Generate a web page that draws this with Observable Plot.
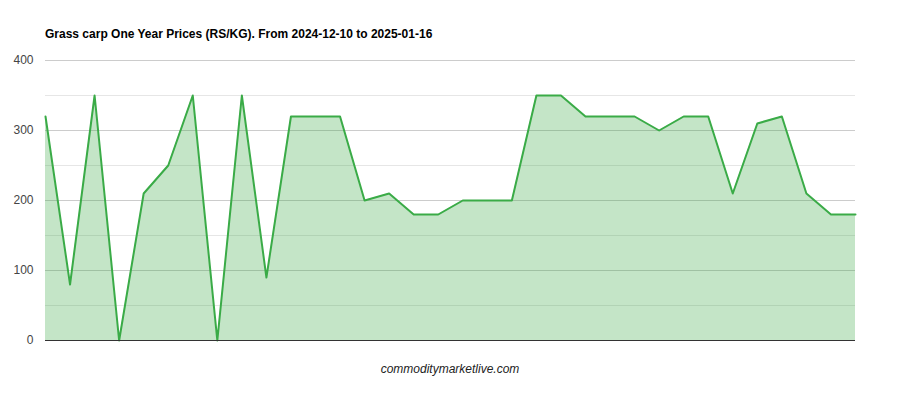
<!DOCTYPE html>
<html>
<head>
<meta charset="utf-8">
<script src="https://cdn.jsdelivr.net/npm/d3@7"></script>
<script src="https://cdn.jsdelivr.net/npm/@observablehq/plot@0.6"></script>
<style>
  body { margin: 0; background: #fff; font-family: "Liberation Sans", Arial, sans-serif; }
  #wrap { position: relative; width: 900px; height: 400px; }
  #title { position: absolute; left: 45px; top: 27px; font-size: 12px; font-weight: bold; color: #000; }
  #caption { position: absolute; left: 0; width: 900px; top: 362px; text-align: center; font-size: 12px; font-style: italic; color: #222; }
  #chart { position: absolute; left: 0; top: 0; }
</style>
</head>
<body>
<div id="wrap">
  <div id="chart"></div>
  <div id="title">Grass carp One Year Prices (RS/KG). From 2024-12-10 to 2025-01-16</div>
  <div id="caption">commoditymarketlive.com</div>
</div>
<script>
const prices = [320, 80, 350, 0, 210, 250, 350, 0, 350, 90, 320, 320, 320, 200, 210, 180, 180, 200, 200, 200, 350, 350, 320, 320, 320, 300, 320, 320, 210, 310, 320, 210, 180, 180];
const yTicks = [0, 100, 200, 300, 400];
const yMinor = [50, 150, 250, 350];

const data = prices.map((v, i) => ({i, v}));

const chart = Plot.plot({
  width: 900,
  height: 400,
  marginTop: 60,
  marginBottom: 60,
  marginLeft: 45,
  marginRight: 45,
  style: {fontFamily: "'Liberation Sans', Arial, sans-serif", fontSize: "12px", color: "#444", background: "#fff"},
  x: {domain: [0, prices.length - 1], axis: null},
  y: {domain: [0, 400], axis: null},
  marks: [
    Plot.ruleY(yMinor, {stroke: "#e6e6e6", strokeWidth: 1}),
    Plot.ruleY(yTicks.filter(d => d > 0), {stroke: "#cccccc", strokeWidth: 1}),
    Plot.areaY(data, {x: "i", y: "v", fill: "#3aaa46", fillOpacity: 0.3}),
    Plot.lineY(data, {x: "i", y: "v", stroke: "#3aab47", strokeWidth: 2}),
    Plot.ruleY([0], {stroke: "#333", strokeWidth: 1}),
    Plot.axisY({ticks: yTicks, tickSize: 0, tickPadding: 12, fill: "#444", fontSize: 12, label: null})
  ]
});
document.getElementById("chart").appendChild(chart);
</script>
</body>
</html>
